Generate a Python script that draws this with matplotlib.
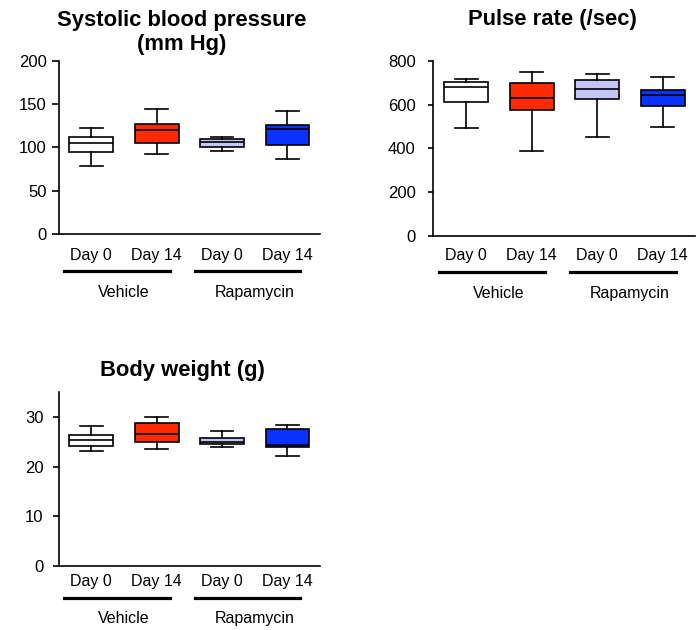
import matplotlib
matplotlib.use("Agg")
import matplotlib.pyplot as plt
from matplotlib import transforms

plt.rcParams['font.family'] = ['Liberation Sans', 'DejaVu Sans']

# box stats per group: whisker low, Q1, median, Q3, whisker high
groups = ["Day 0", "Day 14", "Day 0", "Day 14"]
treatments = ["Vehicle", "Rapamycin"]
colors = ["#ffffff", "#ff2a00", "#c5c5f7", "#0a32ff"]

sbp_lo = [79, 92.5, 96, 87]
sbp_q1 = [95, 105.5, 100, 103]
sbp_med = [105.5, 120, 106, 121]
sbp_q3 = [112.5, 127.5, 110, 125.5]
sbp_hi = [123, 145, 112, 142]

pulse_lo = [493, 390, 451, 496]
pulse_q1 = [614, 577, 625, 594]
pulse_med = [680, 632, 670, 643]
pulse_q3 = [704, 697, 713, 667]
pulse_hi = [718, 750, 739, 728]

bw_lo = [23.1, 23.6, 24.0, 22.1]
bw_q1 = [24.1, 25.0, 24.6, 24.0]
bw_med = [25.3, 26.5, 25.0, 24.4]
bw_q3 = [26.3, 28.9, 25.7, 27.7]
bw_hi = [28.3, 30.1, 27.2, 28.4]


def panel(ax, lo, q1, med, q3, hi, ylim, yticks, title, tx, ty,
          xpad, ylen, ypad, line_y, lab_y, lsp=1.2):
    stats = []
    for i in range(4):
        stats.append(dict(whislo=lo[i], q1=q1[i], med=med[i], q3=q3[i],
                          whishi=hi[i], fliers=[]))
    pos = [1, 2, 3, 4]
    bp = ax.bxp(stats, positions=pos, widths=0.67, capwidths=0.35,
                patch_artist=True, showfliers=False,
                boxprops=dict(linewidth=1.2, edgecolor="black"),
                medianprops=dict(color="black", linewidth=1.2),
                whiskerprops=dict(color="black", linewidth=1.2),
                capprops=dict(color="black", linewidth=1.2))
    for patch, c in zip(bp['boxes'], colors):
        patch.set_facecolor(c)
    ax.set_xlim(0.5, 4.5)
    ax.set_ylim(*ylim)
    ax.set_yticks(yticks)
    ax.set_xticks(pos)
    ax.set_xticklabels(groups)
    ax.spines['top'].set_visible(False)
    ax.spines['right'].set_visible(False)
    ax.spines['left'].set_linewidth(1.2)
    ax.spines['bottom'].set_linewidth(1.2)
    ax.tick_params(axis='x', length=0, pad=xpad, labelsize=11.5)
    ax.tick_params(axis='y', length=ylen, width=1.2, pad=ypad, labelsize=12)
    trans = transforms.blended_transform_factory(ax.transData, ax.transAxes)
    for k, name in enumerate(treatments):
        a, b = pos[2 * k], pos[2 * k + 1]
        ax.plot([a - 0.42, b + 0.2], [line_y, line_y], color="black",
                linewidth=2.3, transform=trans, clip_on=False)
        ax.text((a + b) / 2, lab_y, name, transform=trans, ha="center",
                va="center", fontsize=11.5)
    ax.text(tx, ty, title, transform=ax.transAxes, ha="center", va="center",
            fontsize=15.8, fontweight="bold", linespacing=lsp)


fig = plt.figure(figsize=(6.97, 6.3), dpi=100)
ax1 = fig.add_axes([0.0842, 0.6286, 0.375, 0.2746])
ax2 = fig.add_axes([0.6217, 0.6259, 0.376, 0.2773])
ax3 = fig.add_axes([0.0842, 0.1016, 0.375, 0.2757])

panel(ax1, sbp_lo, sbp_q1, sbp_med, sbp_q3, sbp_hi, (0, 200),
      [0, 50, 100, 150, 200], "Systolic blood pressure\n(mm Hg)",
      0.47, 1.165, xpad=10, ylen=5, ypad=3.6, line_y=-0.214, lab_y=-0.34,
      lsp=1.15)
panel(ax2, pulse_lo, pulse_q1, pulse_med, pulse_q3, pulse_hi, (0, 800),
      [0, 200, 400, 600, 800], "Pulse rate (/sec)", 0.453, 1.235,
      xpad=9, ylen=3.6, ypad=9, line_y=-0.206, lab_y=-0.33)
panel(ax3, bw_lo, bw_q1, bw_med, bw_q3, bw_hi, (0, 35),
      [0, 10, 20, 30], "Body weight (g)", 0.472, 1.128,
      xpad=5.8, ylen=4, ypad=7, line_y=-0.184, lab_y=-0.305)

fig.savefig("out.png", dpi=100)
